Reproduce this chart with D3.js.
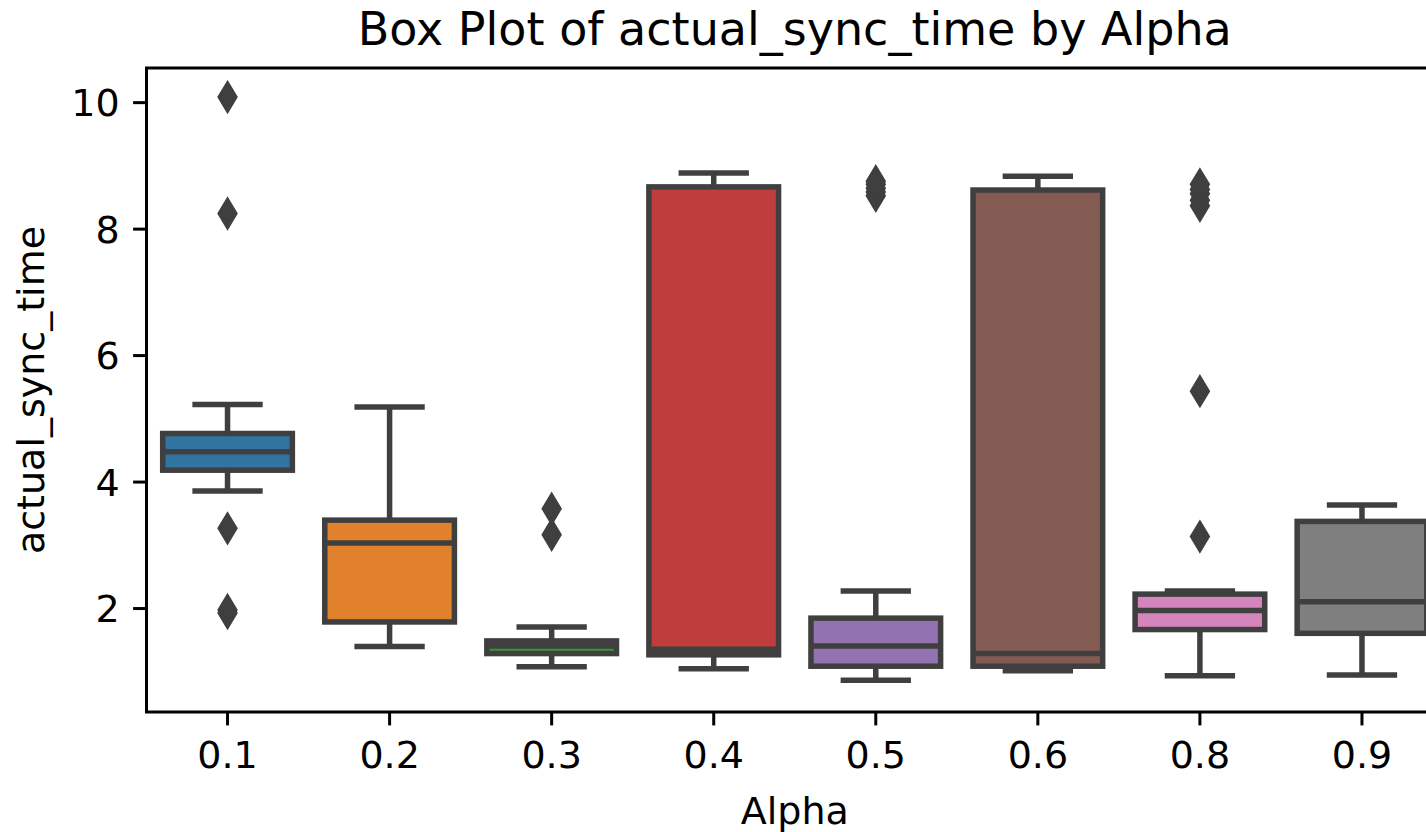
<!DOCTYPE html>
<html>
<head>
<meta charset="utf-8">
<script src="https://cdn.jsdelivr.net/npm/d3@7"></script>
<style>
  body { margin: 0; background: #fff; }
  svg { display: block; }
  text { font-family: "DejaVu Sans", sans-serif; fill: #000; }
</style>
</head>
<body>
<svg width="1426" height="832"></svg>
<script>
// data
const alphas    = ["0.1", "0.2", "0.3", "0.4", "0.5", "0.6", "0.8", "0.9"];
const q1        = [4.18, 1.78, 1.28, 1.26, 1.08, 1.08, 1.66, 1.60];
const medians   = [4.47, 3.03, 1.40, 1.35, 1.40, 1.28, 1.96, 2.10];
const q3        = [4.76, 3.39, 1.48, 8.66, 1.84, 8.61, 2.22, 3.37];
const whiskLow  = [3.85, 1.39, 1.07, 1.04, 0.86, 1.01, 0.93, 0.94];
const whiskHigh = [5.22, 5.18, 1.70, 8.88, 2.27, 8.83, 2.27, 3.63];
const outliers  = [
    [10.08, 8.24, 3.26, 1.92, 1.97],
    [],
    [3.57, 3.16],
    [],
    [8.52, 8.58, 8.64, 8.70, 8.75],
    [],
    [8.36, 8.45, 8.55, 8.62, 8.70, 5.43, 3.13],
    []
];
const colors = ["#3274a1", "#e1812c", "#3a923a", "#c03d3e", "#9372b2", "#845b53", "#d684bd", "#7f7f7f"];
const yTicks = [2, 4, 6, 8, 10];

const gray = "#3f3f3f";
const lw = 5.5;

const axLeft = 146.5, axRight = 1443, axTop = 68, axBottom = 712;

const svg = d3.select("svg");

const x = d3.scaleBand()
    .domain(alphas)
    .range([axLeft, axRight])
    .padding(0);

const y = d3.scaleLinear()
    .domain([0.356, 10.54])
    .range([axBottom, axTop]);

const boxW = x.bandwidth() * 0.8;
const capW = boxW * 0.5;

let rows = alphas.map((a, i) => ({
    a: a, q1: q1[i], med: medians[i], q3: q3[i],
    lo: whiskLow[i], hi: whiskHigh[i], out: outliers[i], color: colors[i]
}));

const plot = svg.append("g");

// boxes
plot.selectAll(".box")
    .data(rows)
    .enter()
    .append("rect")
    .attr("class", "box")
    .attr("x", d => x(d.a) + (x.bandwidth() - boxW) / 2)
    .attr("y", d => y(d.q3))
    .attr("width", boxW)
    .attr("height", d => y(d.q1) - y(d.q3))
    .attr("fill", d => d.color)
    .attr("stroke", gray)
    .attr("stroke-width", lw)
    .attr("stroke-linejoin", "miter");

const cx = d => x(d.a) + x.bandwidth() / 2;

// whiskers
plot.selectAll(".whisk-hi")
    .data(rows)
    .enter()
    .append("line")
    .attr("x1", cx).attr("x2", cx)
    .attr("y1", d => y(d.q3)).attr("y2", d => y(d.hi))
    .attr("stroke", gray).attr("stroke-width", lw);

plot.selectAll(".whisk-lo")
    .data(rows)
    .enter()
    .append("line")
    .attr("x1", cx).attr("x2", cx)
    .attr("y1", d => y(d.q1)).attr("y2", d => y(d.lo))
    .attr("stroke", gray).attr("stroke-width", lw);

// caps
["hi", "lo"].forEach(k => {
    plot.selectAll(".cap-" + k)
        .data(rows)
        .enter()
        .append("line")
        .attr("x1", d => cx(d) - capW / 2).attr("x2", d => cx(d) + capW / 2)
        .attr("y1", d => y(d[k])).attr("y2", d => y(d[k]))
        .attr("stroke", gray).attr("stroke-width", lw)
        .attr("stroke-linecap", "square");
});

// medians
plot.selectAll(".median")
    .data(rows)
    .enter()
    .append("line")
    .attr("x1", d => cx(d) - boxW / 2).attr("x2", d => cx(d) + boxW / 2)
    .attr("y1", d => y(d.med)).attr("y2", d => y(d.med))
    .attr("stroke", gray).attr("stroke-width", lw);

// fliers as thin diamonds
const dh = 13.5, dw = 8.1;
const diamond = `M0,${-dh}L${dw},0L0,${dh}L${-dw},0Z`;
let fliers = [];
rows.forEach(r => r.out.forEach(v => fliers.push([cx(r), y(v)])));

plot.selectAll(".flier")
    .data(fliers)
    .enter()
    .append("path")
    .attr("class", "flier")
    .attr("transform", d => `translate(${d[0]}, ${d[1]})`)
    .attr("d", diamond)
    .attr("fill", gray)
    .attr("stroke", gray)
    .attr("stroke-width", 3.8)
    .attr("stroke-linejoin", "miter");

// axes
const xAxis = svg.append("g")
    .attr("transform", `translate(0, ${axBottom})`)
    .call(d3.axisBottom(x).tickSize(13.4).tickPadding(13.4));

const yAxis = svg.append("g")
    .attr("transform", `translate(${axLeft}, 0)`)
    .call(d3.axisLeft(y).tickValues(yTicks).tickSize(13.4).tickPadding(13.4));

[xAxis, yAxis].forEach(g => {
    g.select(".domain").remove();
    g.selectAll(".tick line").attr("stroke", "#000").attr("stroke-width", 3);
    g.selectAll(".tick text")
        .attr("font-family", "DejaVu Sans")
        .attr("font-size", 38)
        .attr("fill", "#000");
});
xAxis.selectAll(".tick text").attr("dy", null).attr("y", 56);
yAxis.selectAll(".tick text").attr("dy", "0.36em");

// spines
svg.append("path")
    .attr("d", `M${axRight},${axTop}H${axLeft}V${axBottom}H${axRight}`)
    .attr("fill", "none")
    .attr("stroke", "#000")
    .attr("stroke-width", 3)
    .attr("stroke-linecap", "square");

// labels
const midX = (axLeft + axRight) / 2;
svg.append("text")
    .attr("x", midX)
    .attr("y", 45)
    .attr("text-anchor", "middle")
    .attr("font-size", 46)
    .text("Box Plot of actual_sync_time by Alpha");

svg.append("text")
    .attr("x", midX)
    .attr("y", 824)
    .attr("text-anchor", "middle")
    .attr("font-size", 38)
    .text("Alpha");

svg.append("text")
    .attr("transform", `translate(44, ${(axTop + axBottom) / 2}) rotate(-90)`)
    .attr("text-anchor", "middle")
    .attr("font-size", 38)
    .text("actual_sync_time");
</script>
</body>
</html>
